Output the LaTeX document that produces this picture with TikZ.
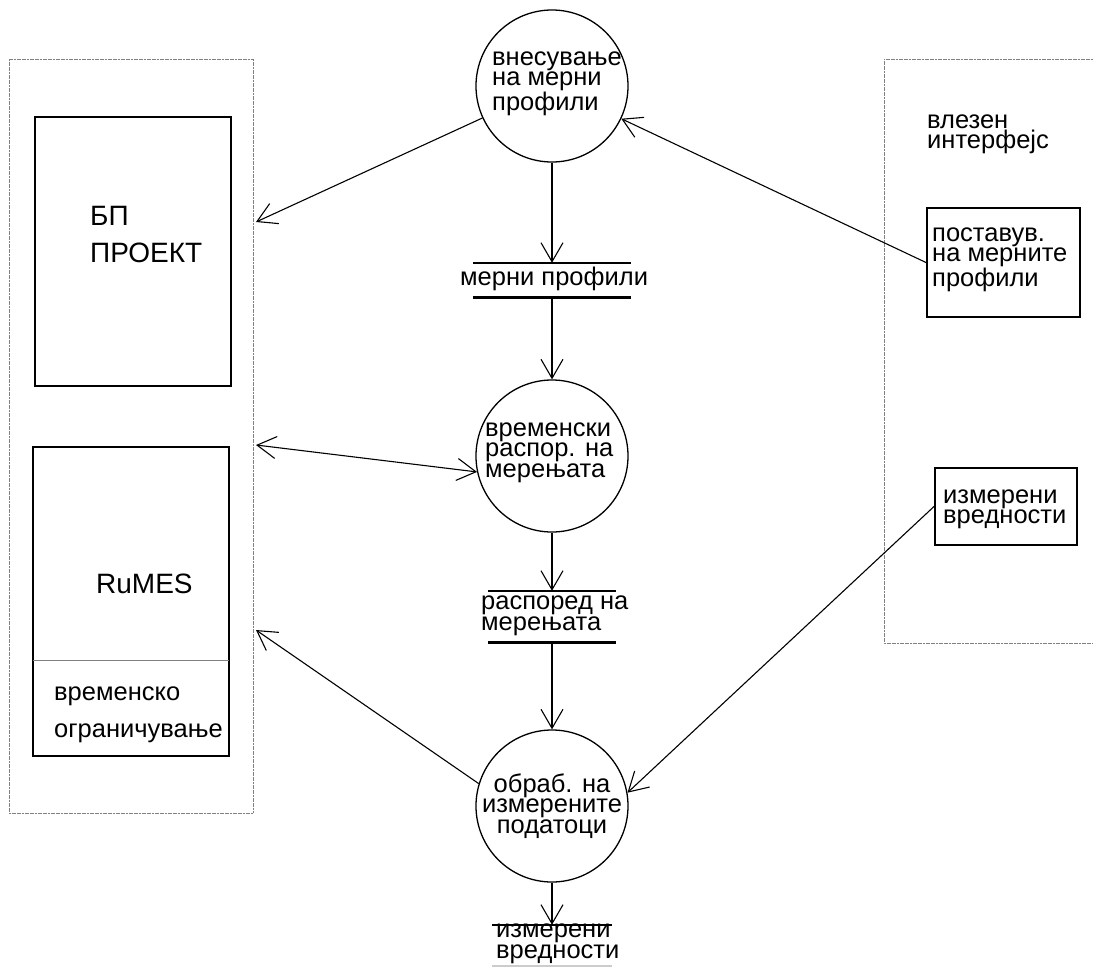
\documentclass[tikz,border=0pt]{standalone}
\usepackage{fontspec}
\setmainfont{Liberation Sans}
\usetikzlibrary{arrows.meta}

\tikzset{
	proc/.style={circle, draw, line width=1.3pt, minimum size=152pt, inner sep=0pt},
	ext/.style={rectangle, draw, line width=2pt, inner sep=0pt},
	store/.style={rectangle, inner sep=0pt},
	storeline/.style={line width=2.6pt},
	group/.style={draw=gray, line width=0.9pt, dash pattern=on 2pt off 0.6pt},
	flow/.style={line width=1.1pt},
	txt/.style={inner sep=0pt, anchor=base west, align=left, font=\fontsize{25.5}{#1}\selectfont},
	txt/.default=16,
	bigtxt/.style={inner sep=0pt, anchor=base west, align=left, font=\fontsize{28}{37}\selectfont},
}

\begin{document}
\begin{tikzpicture}[x=1pt, y=-1pt, >={Straight Barb[length=19pt,width=22pt]}]
	\useasboundingbox (0,0) rectangle (1093,967);

	% groups
	\draw[group] (9,59) rectangle (253,813);
	\draw[group] (1093,59) -- (884,59) -- (884,643) -- (1093,643);

	% external entities
	\node[ext, minimum width=196pt, minimum height=269pt] (bp) at (133,251.5) {};
	\node[ext, minimum width=196pt, minimum height=309pt] (rumes) at (131,601.5) {};
	\draw[gray, line width=0.8pt] (33,660) -- (229,660);
	\node[ext, minimum width=153pt, minimum height=109pt] (pb) at (1003.5,262.5) {};
	\node[ext, minimum width=142pt, minimum height=77pt] (iv) at (1006,506.5) {};

	% processes
	\node[proc] (c1) at (552,86) {};
	\node[proc] (c2) at (552,456) {};
	\node[proc] (c3) at (552,806) {};

	% stores
	\node[store, minimum width=158pt, minimum height=34pt] (s1) at (552,280) {};
	\node[store, minimum width=127pt, minimum height=51pt] (s2) at (552,616.5) {};
	\node[store, minimum width=119pt, minimum height=41pt] (s3) at (552,945.5) {};
	\foreach \s in {s1,s2}
	{
		\draw[storeline] (\s.north west) -- (\s.north east) (\s.south west) -- (\s.south east);
	}
	\draw[storeline] (s3.north west) -- (s3.north east);
	\draw[gray!40, line width=1.5pt] (s3.south west) -- (s3.south east);

	% texts (placed at the baseline of the last line)
	\node[bigtxt] (bptxt) at (90,262) {БП\\ПРОЕКТ};
	\node[bigtxt] (rumestxt) at (96,593) {RuMES};
	\node[txt=37] (limtxt) at (54,737) {временско\\ограничување};
	\node[txt=20] (ifctxt) at (927,148) {влезен\\интерфејс};
	\node[txt=18] (pbtxt) at (932,286) {поставув.\\на мерните\\профили};
	\node[txt=20] (ivtxt) at (943,523) {измерени\\вредности};
	\node[txt=15] (c1txt) at (492,110) {внесување\\на мерни\\профили};
	\node[txt=17] (c2txt) at (485,477) {временски\\распор. на\\мерењата};
	\node[txt=16.5, anchor=base, align=center] (c3txt) at (552,833) {обраб. на\\измерените\\податоци};
	\node[txt] (s1txt) at (460,285) {мерни профили};
	\node[txt=15] (s2txt) at (481,630) {распоред на\\мерењата};
	\node[txt=16] (s3txt) at (496,958) {измерени\\вредности};

	% flows
	\coordinate (bpin) at ([xshift=24pt,yshift=29.5pt]bp.east);
	\coordinate (rmtop) at ([xshift=26pt,yshift=1pt]rumes.north east);
	\coordinate (rmlow) at ([xshift=26pt,yshift=-28.5pt]rumes.east);
	\draw[flow, ->] (c1) -- (bpin);
	\draw[flow, ->] (c1) -- (s1);
	\draw[flow, ->] (s1) -- (c2);
	\draw[flow, <->] (rmtop) -- (c2.192);
	\draw[flow, ->] (c2) -- (s2);
	\draw[flow, ->] (s2) -- (c3);
	\draw[flow, ->] (c3.163) -- (rmlow);
	\draw[flow, ->] (pb.west) -- (c1);
	\draw[flow, ->] (iv.west) -- (c3.10);
	\draw[flow, ->] (c3) -- (s3);
\end{tikzpicture}
\end{document}
